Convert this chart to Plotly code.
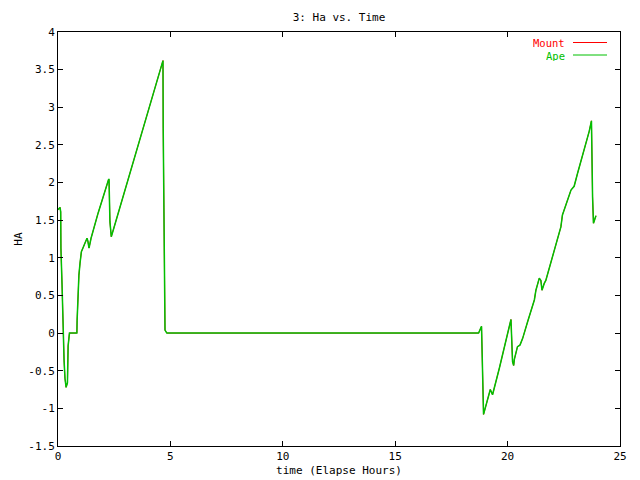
import plotly.graph_objects as go

# Time (elapsed hours) and HA values
ape_t = [0.00, 0.09, 0.12, 0.13, 0.18, 0.22, 0.27, 0.31, 0.36, 0.42, 0.45, 0.51,
         0.84, 0.85, 0.89, 0.93, 0.98, 1.01, 1.04, 1.11, 1.19, 1.29, 1.33, 1.38,
         1.47, 1.78, 2.25, 2.27, 2.31, 2.37, 2.44, 3.11, 4.67, 4.68, 4.72, 4.76,
         4.84, 18.71, 18.84, 18.86, 18.89, 18.93, 19.23, 19.33, 19.63, 20.08,
         20.15, 20.22, 20.27, 20.30, 20.44, 20.55, 20.67, 20.89, 21.19, 21.26,
         21.41, 21.48, 21.53, 21.63, 21.70, 22.37, 22.44, 22.82, 22.96, 23.11,
         23.41, 23.63, 23.73, 23.74, 23.78, 23.82, 23.86, 23.93]
ape_ha = [1.64, 1.67, 1.61, 1.13, 0.64, 0.04, -0.36, -0.60, -0.72, -0.66, -0.17, 0.00,
          0.00, 0.17, 0.53, 0.77, 0.93, 1.02, 1.08, 1.13, 1.19, 1.26, 1.22, 1.13,
          1.26, 1.59, 2.04, 2.04, 1.48, 1.28, 1.35, 2.04, 3.62, 2.72, 0.95, 0.04,
          0.00, 0.00, 0.09, -0.20, -0.78, -1.08, -0.75, -0.82, -0.47, 0.13,
          0.18, -0.38, -0.43, -0.35, -0.18, -0.16, -0.07, 0.15, 0.44, 0.57,
          0.73, 0.70, 0.57, 0.66, 0.70, 1.41, 1.57, 1.90, 1.95, 2.12,
          2.43, 2.68, 2.82, 2.48, 1.81, 1.46, 1.50, 1.56]
mount_t = list(ape_t)
mount_ha = list(ape_ha)

x_ticks = [0, 5, 10, 15, 20, 25]
y_ticks = [-1.5, -1, -0.5, 0, 0.5, 1, 1.5, 2, 2.5, 3, 3.5, 4]

FONT = "DejaVu Sans Mono"
RED = "#ff0000"
GREEN = "#00c000"

fig = go.Figure()
fig.add_trace(go.Scatter(x=mount_t, y=mount_ha, mode="lines", name="Mount",
                         line=dict(color=RED, width=1), showlegend=False))
fig.add_trace(go.Scatter(x=ape_t, y=ape_ha, mode="lines", name="Ape",
                         line=dict(color=GREEN, width=1.5), showlegend=False))

axis_common = dict(showgrid=False, zeroline=False, showline=True, linecolor="black",
                   linewidth=1, mirror="ticks", ticks="inside", ticklen=5,
                   tickcolor="black", automargin=False,
                   tickfont=dict(family=FONT, size=11, color="black"))

# the page body adds an 8px offset; margins compensate so the plot box sits at
# x 58..620, y 32..446 of the window
L, R, T, B = 50, 28, 24, 42
fig.update_layout(
    width=640, height=480,
    margin=dict(l=L, r=R, t=T, b=B, autoexpand=False),
    paper_bgcolor="white", plot_bgcolor="white",
    title=dict(text="3: Ha vs. Time", x=331 / 640, xanchor="center",
               y=1 - 9 / 480, yanchor="middle", yref="container",
               font=dict(family=FONT, size=11, color="black")),
    xaxis=dict(range=[0, 25], tickvals=x_ticks, ticktext=[str(v) for v in x_ticks],
               title=dict(text="time (Elapse Hours)", standoff=4,
                          font=dict(family=FONT, size=11, color="black")),
               **axis_common),
    yaxis=dict(range=[-1.5, 4], tickvals=y_ticks, ticktext=[f"{v:g}" for v in y_ticks],
               title=dict(text="HA", standoff=3,
                          font=dict(family=FONT, size=11, color="black")),
               **axis_common),
)

# gnuplot-style key: text on the left, line sample on the right
x0p, x1p = 58, 620
y0p, y1p = 32, 446
pw = x1p - x0p
ph = y1p - y0p
for i, (name, col) in enumerate([("Mount", RED), ("Ape", GREEN)]):
    ypix = 42.5 + i * 12.5
    yp = 1 - (ypix - y0p) / ph
    fig.add_annotation(text=name, xref="paper", yref="paper",
                       x=(566 - x0p) / pw, y=yp, xanchor="right", yanchor="middle",
                       height=11, valign="middle", borderpad=0,
                       showarrow=False, font=dict(family=FONT, size=10.5, color=col))
    fig.add_shape(type="line", xref="paper", yref="paper",
                  x0=(573 - x0p) / pw, x1=(607 - x0p) / pw, y0=yp, y1=yp,
                  line=dict(color=col, width=1))

fig.write_html("out.html")
